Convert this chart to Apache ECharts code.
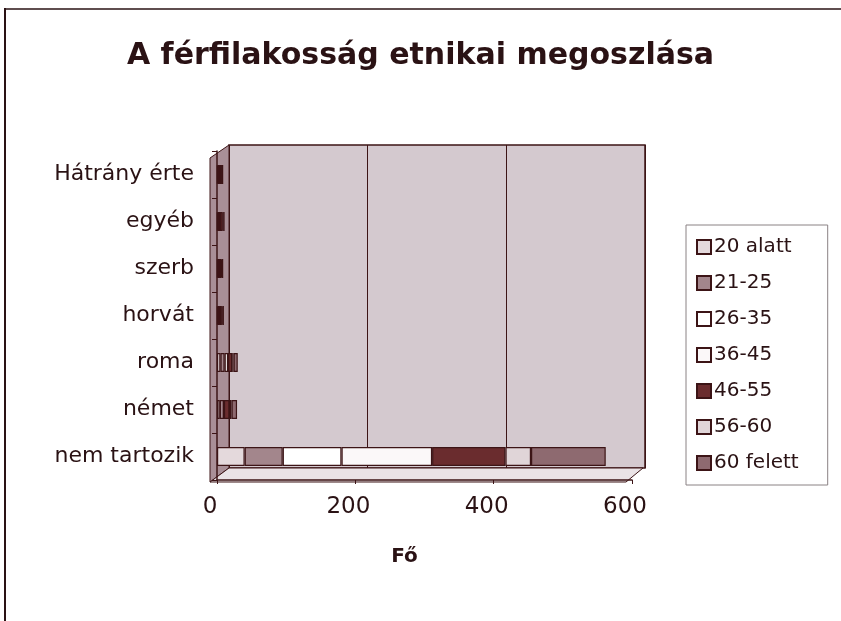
<!DOCTYPE html>
<html>
<head>
<meta charset="utf-8">
<script src="https://cdn.jsdelivr.net/npm/echarts@6/dist/echarts.min.js"></script>
<style>html,body{margin:0;padding:0;background:#fff}#c{width:841px;height:621px}</style>
</head>
<body>
<div id="c"></div>
<script>
const categories = ['nem tartozik', 'német', 'roma', 'horvát', 'szerb', 'egyéb', 'Hátrány érte'];
const seriesNames = ['20 alatt', '21-25', '26-35', '36-45', '46-55', '56-60', '60 felett'];
const v20alatt  = [40, 4, 5, 1, 1, 1, 1];
const v21_25    = [55, 6, 6, 2, 2, 3, 2];
const v26_35    = [85, 0, 5, 1, 1, 0, 1];
const v36_45    = [131, 0, 0, 0, 0, 0, 0];
const v46_55    = [106, 8, 6, 3, 2, 4, 3];
const v56_60    = [37, 3, 2, 1, 1, 1, 0];
const v60felett = [108, 8, 6, 2, 2, 2, 2];
const xTicks = [0, 200, 400, 600];

const values = [v20alatt, v21_25, v26_35, v36_45, v46_55, v56_60, v60felett];
const colors = ['#e4d9dc', '#a3868c', '#ffffff', '#fbf8f9', '#6a2c2e', '#e0d5d8', '#8e6a70'];
const dark = '#3c1416';
const font = 'DejaVu Sans';

const chart = echarts.init(document.getElementById('c'));
chart.setOption({
  backgroundColor: '#ffffff',
  animation: false,
  title: {
    text: 'A férfilakosság etnikai megoszlása',
    left: 'center', top: 36,
    textStyle: { fontFamily: font, fontWeight: 'bold', fontSize: 30, color: '#2a1214' }
  },
  legend: {
    orient: 'vertical', left: 686, top: 225,
    padding: [12, 29, 12, 10],
    itemGap: 16, itemWidth: 14, itemHeight: 14,
    borderColor: '#8a8284', borderWidth: 1,
    icon: 'rect',
    data: seriesNames,
    textStyle: { fontFamily: font, fontSize: 20, color: '#2a1214', padding: [0, 0, 0, -2] }
  },
  graphic: [
    { type: 'line', z: 0, shape: { x1: 5, y1: 8, x2: 5, y2: 621 }, style: { stroke: '#2a1214', lineWidth: 2 } },
    { type: 'line', z: 0, shape: { x1: 5, y1: 9, x2: 841, y2: 9 }, style: { stroke: '#2a1214', lineWidth: 1.5 } },
    { type: 'polygon', z: 0, shape: { points: [[210, 158], [229, 145], [229, 468], [210, 482]] }, style: { fill: '#a98f97', stroke: dark, lineWidth: 1 } },
    { type: 'polygon', z: 0, shape: { points: [[210, 482], [229, 468], [643, 468], [626, 482]] }, style: { fill: '#eae3e6', stroke: dark, lineWidth: 1 } }
  ],
  grid: [
    { left: 217, top: 151, width: 415, height: 329, show: false },
    { left: 229, top: 145, width: 416, height: 323, show: true, backgroundColor: '#d4c9cf', borderColor: dark, borderWidth: 1.5 }
  ],
  xAxis: [
    {
      gridIndex: 0, type: 'value', min: 0, max: 600, interval: 200,
      name: 'Fő', nameLocation: 'middle', nameGap: 67,
      nameTextStyle: { fontFamily: font, fontWeight: 'bold', fontSize: 20, color: '#2a1214', padding: [0, 40, 0, 0] },
      axisLine: { show: true, lineStyle: { color: dark, width: 1.5 } },
      axisTick: { show: true, length: 4, lineStyle: { color: dark } },
      splitLine: { show: false },
      axisLabel: {
        fontFamily: font, fontSize: 23, color: '#2a1214', margin: 16,
        padding: [0, 14, 0, 0],
        formatter: (v) => xTicks.indexOf(v) >= 0 ? String(v) : ''
      }
    },
    {
      gridIndex: 1, type: 'value', min: 0, max: 600, interval: 200,
      axisLine: { show: false }, axisTick: { show: false }, axisLabel: { show: false },
      splitLine: { show: true, lineStyle: { color: dark, width: 1 } }
    }
  ],
  yAxis: [
    {
      gridIndex: 0, type: 'category', data: categories, offset: 7,
      axisLine: { show: true, lineStyle: { color: dark, width: 1.5 } },
      axisTick: { show: true, length: 5, lineStyle: { color: dark } },
      axisLabel: { fontFamily: font, fontSize: 22, color: '#2a1214', margin: 16 }
    },
    {
      gridIndex: 1, type: 'category', data: categories,
      axisLine: { show: false }, axisTick: { show: false }, axisLabel: { show: false }, splitLine: { show: false }
    }
  ],
  series: seriesNames.map((n, i) => ({
    name: n, type: 'bar', stack: 'total', xAxisIndex: 0, yAxisIndex: 0,
    barWidth: 19,
    data: values[i],
    itemStyle: { color: colors[i], borderColor: dark, borderWidth: 1.2 }
  }))
});
</script>
</body>
</html>
